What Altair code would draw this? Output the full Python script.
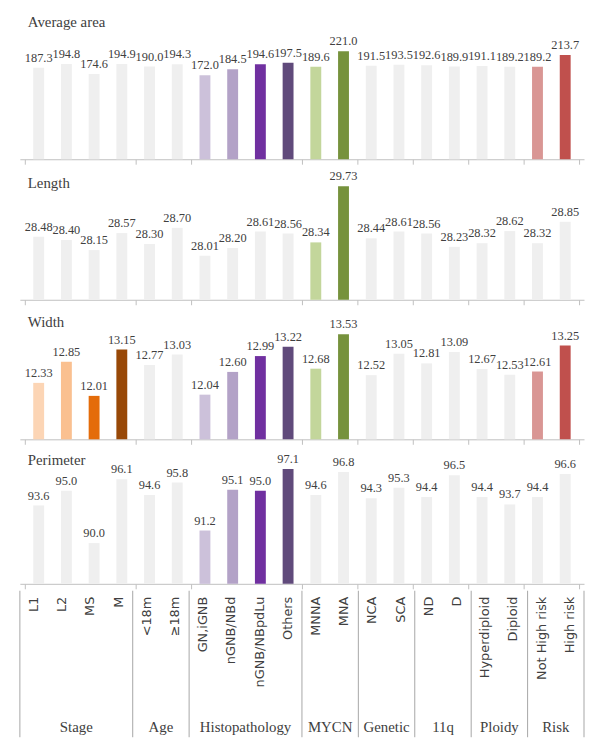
import altair as alt
import pandas as pd

categories = ["L1", "L2", "MS", "M", "<18m", "≥18m", "GN,iGNB", "nGNB/NBd",
              "nGNB/NBpdLu", "Others", "MNNA", "MNA", "NCA", "SCA", "ND", "D",
              "Hyperdiploid", "Diploid", "Not High risk", "High risk"]
groups = ["Stage"] * 4 + ["Age"] * 2 + ["Histopathology"] * 4 + ["MYCN"] * 2 + \
         ["Genetic\nprofile"] * 2 + ["11q"] * 2 + ["Ploidy"] * 2 + ["Risk\ngroup"] * 2
area = [187.3, 194.8, 174.6, 194.9, 190.0, 194.3, 172.0, 184.5, 194.6, 197.5,
        189.6, 221.0, 191.5, 193.5, 192.6, 189.9, 191.1, 189.2, 189.2, 213.7]
length = [28.48, 28.40, 28.15, 28.57, 28.30, 28.70, 28.01, 28.20, 28.61, 28.56,
          28.34, 29.73, 28.44, 28.61, 28.56, 28.23, 28.32, 28.62, 28.32, 28.85]
width_v = [12.33, 12.85, 12.01, 13.15, 12.77, 13.03, 12.04, 12.60, 12.99, 13.22,
           12.68, 13.53, 12.52, 13.05, 12.81, 13.09, 12.67, 12.53, 12.61, 13.25]
perimeter = [93.6, 95.0, 90.0, 96.1, 94.6, 95.8, 91.2, 95.1, 95.0, 97.1,
             94.6, 96.8, 94.3, 95.3, 94.4, 96.5, 94.4, 93.7, 94.4, 96.6]
palette = ["#fcd5b5", "#fac090", "#e46c0a", "#984807", "#ededed", "#ededed",
           "#ccc1da", "#b3a2c7", "#7030a0", "#604a7b", "#c3d69b", "#76923c",
           "#ededed", "#ededed", "#ededed", "#ededed", "#ededed", "#ededed",
           "#d99694", "#c0504d"]
GRAY = "#efefef"
TXT = "#404040"
SERIF = "'Liberation Serif', 'DejaVu Serif', serif"

n = len(categories)
idx = list(range(n))
bounds = [-0.5]
for i in range(1, n):
    if groups[i] != groups[i - 1]:
        bounds.append(i - 0.5)
bounds.append(n - 0.5)

W = 570
xscale = alt.Scale(domain=[-0.5, n - 0.5], nice=False, zero=False)


def panel(title, values, hl, domain, height, fmt, ty):
    df = pd.DataFrame({"idx": idx, "cat": categories, "group": groups, "value": values})
    df["color"] = [palette[i] if groups[i] in hl else GRAY for i in idx]
    df["base"] = domain[0]
    df["label"] = [format(v, fmt) for v in values]
    x = alt.X("idx:Q", scale=xscale,
              axis=alt.Axis(values=bounds, labels=False, title=None, grid=False,
                            tickSize=5, domainColor="#bfbfbf", tickColor="#bfbfbf"))
    y = alt.Y("value:Q", scale=alt.Scale(domain=list(domain), nice=False, zero=False), axis=None)
    bars = alt.Chart(df).mark_bar(size=11).encode(
        x=x, y=y, y2="base:Q", color=alt.Color("color:N", scale=None))
    text = alt.Chart(df).mark_text(baseline="bottom", dy=-3, font=SERIF, fontSize=12.5,
                                   color=TXT).encode(x=alt.X("idx:Q"), y=alt.Y("value:Q"),
                                                     text="label:N")
    ttl = alt.Chart(pd.DataFrame({"t": [title]})).mark_text(
        align="left", baseline="alphabetic", font=SERIF, fontSize=15, color=TXT).encode(
        x=alt.value(8), y=alt.value(ty), text="t:N")
    return alt.layer(bars, text, ttl).properties(width=W, height=height)


p1 = panel("Average area", area, ["Histopathology", "MYCN", "Risk\ngroup"], (0, 302), 149, ".1f", 15)
p2 = panel("Length", length, ["MYCN"], (26.92, 30.25), 136, ".2f", 23)
p3 = panel("Width", width_v, ["Stage", "Histopathology", "MYCN", "Risk\ngroup"], (10.94, 14.23), 135, ".2f", 22)
p4 = panel("Perimeter", perimeter, ["Histopathology"], (86.1, 99.36), 140, ".1f", 20)

TH = 148
cat_df = pd.DataFrame({"idx": idx, "cat": categories})
grp_names = []
grp_pos = []
for g in dict.fromkeys(groups):
    members = [i for i in idx if groups[i] == g]
    grp_names.append(g)
    grp_pos.append(sum(members) / len(members))
grp_df = pd.DataFrame({"gpos": grp_pos, "gname": grp_names})
bnd_df = pd.DataFrame({"b": bounds})

tx = alt.X("idx:Q", scale=xscale, axis=None)
rules = alt.Chart(bnd_df).mark_rule(color="#a6a6a6", strokeWidth=1).encode(
    x=alt.X("b:Q", scale=xscale, axis=None), y=alt.value(0), y2=alt.value(TH))
cat_text = alt.Chart(cat_df).mark_text(angle=270, align="right", baseline="middle",
                                       font="DejaVu Sans", fontSize=13, color=TXT).encode(
    x=tx, y=alt.value(6), text="cat:N")
grp_text = alt.Chart(grp_df).mark_text(baseline="top", align="center", font=SERIF,
                                       fontSize=15, color=TXT, lineBreak="\n",
                                       lineHeight=18, clip=True).encode(
    x=alt.X("gpos:Q", scale=xscale, axis=None), y=alt.value(131), text="gname:N")
table = alt.layer(rules, cat_text, grp_text).properties(width=W, height=TH)

chart = alt.vconcat(p1, p2, p3, p4, table, spacing=0).properties(
    padding={"left": 11, "top": 0, "right": 0, "bottom": 0}
).configure_view(stroke=None)

chart.save("out.html", embed_options={"renderer": "svg", "actions": False})
